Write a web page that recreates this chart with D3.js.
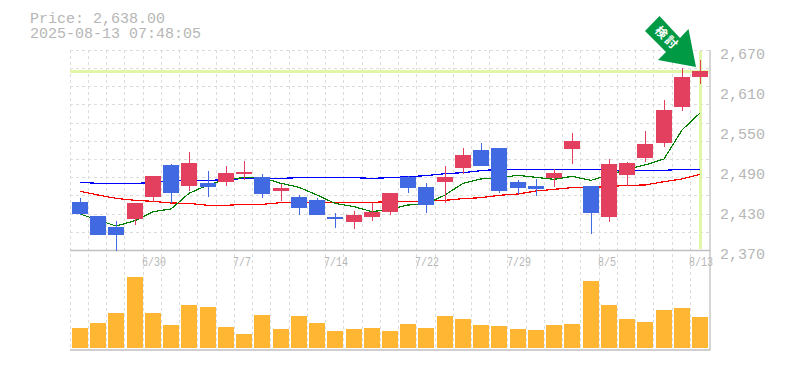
<!DOCTYPE html>
<html>
<head>
<meta charset="utf-8">
<script src="https://cdn.jsdelivr.net/npm/d3@7"></script>
<style>
    html, body { margin: 0; padding: 0; background: #ffffff; }
    svg { display: block; }
</style>
</head>
<body>
<div id="chart"></div>
<script>
const dates = ["6/24", "6/25", "6/26", "6/27", "6/30", "7/1", "7/2", "7/3", "7/4", "7/7", "7/8", "7/9", "7/10", "7/11",
    "7/14", "7/15", "7/16", "7/17", "7/18", "7/22", "7/23", "7/24", "7/25", "7/28", "7/29", "7/30", "7/31", "8/1",
    "8/4", "8/5", "8/6", "8/7", "8/8", "8/12", "8/13"];
const dateTicks = ["6/30", "7/7", "7/14", "7/22", "7/29", "8/5", "8/13"];
const priceTicks = [2670, 2610, 2550, 2490, 2430, 2370];

const open = [2442, 2421, 2404.5, 2416.5, 2449.5, 2497.5, 2466, 2470.5, 2472, 2484, 2479.5, 2458.5, 2449.5, 2445,
    2419.5, 2412, 2419.5, 2427, 2479.5, 2464.5, 2472, 2493, 2520, 2523, 2472, 2466, 2478, 2521.5,
    2466, 2419.5, 2482.5, 2508, 2530.5, 2584.5, 2629.5];
const high = [2447.5, 2421, 2413.5, 2440.5, 2481, 2499, 2517, 2488.5, 2496, 2503.5, 2484, 2469, 2452.5, 2448,
    2425.5, 2428.5, 2441, 2455.5, 2481, 2470.5, 2496, 2523, 2530.5, 2523, 2475, 2476.5, 2491.5, 2545.5,
    2466, 2506.5, 2502, 2548.5, 2595, 2643, 2655];
const low = [2422, 2392.5, 2369, 2407.5, 2442.5, 2440.5, 2458.5, 2449.5, 2466, 2475, 2448, 2443.5, 2422.5, 2422.5,
    2403, 2401.5, 2413.5, 2422.5, 2455.5, 2425.5, 2440.5, 2484, 2496, 2455.5, 2454, 2451, 2464.5, 2499,
    2394, 2412, 2466, 2502, 2524.5, 2578.5, 2619];
const close = [2424, 2392.5, 2392.5, 2440.5, 2481, 2455.5, 2500.5, 2464.5, 2485.5, 2487, 2454, 2463, 2433, 2422.5,
    2416.5, 2422.5, 2427, 2455.5, 2463, 2437.5, 2479.5, 2512.5, 2496, 2458.5, 2463, 2461.5, 2485.5, 2533.5,
    2425.5, 2499, 2500.5, 2529, 2580, 2629.5, 2638];

const maShort = [2424, 2415, 2406, 2414, 2427.5, 2431.5, 2455, 2467.5, 2476, 2478.5, 2478.5, 2470, 2464, 2452.5,
    2440, 2435, 2427.5, 2431, 2437.5, 2439, 2452.5, 2470, 2476.5, 2478.5, 2482, 2479, 2476, 2480.5,
    2474.5, 2482.5, 2491, 2497.5, 2506.5, 2550, 2575.5];
const maMid = [2458, 2452.5, 2447.5, 2444.5, 2443, 2440.5, 2440, 2437, 2437, 2438.5, 2438.5, 2441, 2441.5, 2441.5,
    2441.5, 2441.5, 2441.5, 2442.5, 2443, 2443.5, 2444.5, 2447, 2448.5, 2452, 2454, 2458.5, 2461, 2463.5,
    2464, 2465, 2467, 2467.5, 2472.5, 2476.5, 2483.5];
const maLong = [2471.5, 2470, 2470, 2470, 2471, 2473.5, 2474, 2474, 2476, 2477, 2477, 2477.5, 2478.5, 2478.5,
    2478.5, 2478.5, 2477.5, 2478.5, 2480, 2481.5, 2484.5, 2486, 2489, 2491, 2491, 2491, 2491, 2491,
    2491, 2489.5, 2489.5, 2489.5, 2489.5, 2491, 2491];

const volume = [20, 25, 35, 71, 35, 23, 43, 41, 21, 14, 33, 19, 32, 25, 17, 19, 20, 17,
    24, 20, 32, 29, 23, 22, 19, 18, 23, 24, 67, 43, 29, 26, 38, 40, 31];

const currentPrice = 2638;
const currentDate = "8/13";
const gridColumns = d3.range(dates.length);
const gridRows = d3.range(11);

const width = 785, height = 370;
const left = 70.77, right = 709.17;
const upColor = "#e34060", downColor = "#4169e1";
const textColor = "#b6b6b6", gridColor = "#dcdcdc", markColor = "#e2f6a8";
const monoFont = "'Liberation Mono', monospace";

const svg = d3.select("#chart")
    .append("svg")
    .attr("width", width)
    .attr("height", height);

// Scales
const x = d3.scaleBand()
    .domain(dates)
    .range([left, right])
    .paddingInner(0.124)
    .paddingOuter(0.062);

const y = d3.scaleLinear().domain([2370, 2670]).range([250, 50]);
const yVol = d3.scaleLinear().domain([0, 100]).range([348, 248]);
const xGrid = d3.scaleLinear().domain([0, 34]).range([70.2, 690.4]);
const yGrid = d3.scaleLinear().domain([0, 11]).range([50.4, 250.4]);

const barLeft = d => Math.round(x(d));
const center = d => barLeft(d) + 8;

// Grid
svg.append("g").selectAll("line")
    .data(gridColumns)
    .join("line")
    .attr("x1", d => Math.floor(xGrid(d)) + 0.5)
    .attr("x2", d => Math.floor(xGrid(d)) + 0.5)
    .attr("y1", 50)
    .attr("y2", 349)
    .attr("stroke", gridColor)
    .attr("stroke-dasharray", "3,3");

svg.append("g").selectAll("line")
    .data(gridRows)
    .join("line")
    .attr("x1", 70)
    .attr("x2", 709)
    .attr("y1", d => Math.floor(yGrid(d)) + 0.5)
    .attr("y2", d => Math.floor(yGrid(d)) + 0.5)
    .attr("stroke", gridColor)
    .attr("stroke-dasharray", "3,3");

// Current price and date markers
svg.append("line")
    .attr("x1", 70)
    .attr("x2", 709)
    .attr("y1", Math.round(y(currentPrice)) + 0.5)
    .attr("y2", Math.round(y(currentPrice)) + 0.5)
    .attr("stroke", markColor)
    .attr("stroke-width", 3);

svg.append("line")
    .attr("x1", center(currentDate) + 0.5)
    .attr("x2", center(currentDate) + 0.5)
    .attr("y1", 51)
    .attr("y2", 249)
    .attr("stroke", markColor)
    .attr("stroke-width", 3);

// Frame
svg.append("path")
    .attr("d", "M70,250.5H710M70,350H710.5M710,50V350")
    .attr("fill", "none")
    .attr("stroke", "#c0c0c0")
    .attr("stroke-width", 1.3);

// Moving averages
const line = d3.line()
    .x((d, i) => center(dates[i]))
    .y(d => y(d));

[[maLong, "#0000ff"], [maMid, "#ff0000"], [maShort, "#008000"]].forEach(([values, color]) => {
    svg.append("path")
        .attr("d", line(values))
        .attr("fill", "none")
        .attr("stroke", color)
        .attr("stroke-width", 1.2)
        .attr("shape-rendering", "crispEdges");
});

// Candles
const candle = svg.append("g")
    .selectAll("g")
    .data(dates)
    .join("g")
    .attr("shape-rendering", "crispEdges")
    .attr("fill", (d, i) => close[i] >= open[i] ? upColor : downColor)
    .attr("stroke", (d, i) => close[i] >= open[i] ? upColor : downColor);

candle.append("line")
    .attr("x1", d => center(d) + 0.5)
    .attr("x2", d => center(d) + 0.5)
    .attr("y1", (d, i) => y(high[i]))
    .attr("y2", (d, i) => y(low[i]));

candle.append("rect")
    .attr("x", barLeft)
    .attr("width", 16)
    .attr("y", (d, i) => y(Math.max(open[i], close[i])))
    .attr("height", (d, i) => Math.abs(y(open[i]) - y(close[i])))
    .attr("stroke", "none");

// Volume
svg.append("g")
    .selectAll("rect")
    .data(dates)
    .join("rect")
    .attr("x", barLeft)
    .attr("width", 16)
    .attr("y", (d, i) => yVol(volume[i]))
    .attr("height", (d, i) => yVol(0) - yVol(volume[i]))
    .attr("fill", "#ffb733")
    .attr("shape-rendering", "crispEdges");

// Axis labels
svg.append("g")
    .attr("transform", "translate(711,0)")
    .call(d3.axisRight(y).tickValues(priceTicks).tickFormat(d3.format(",")).tickSize(0).tickPadding(9))
    .call(g => g.select(".domain").remove())
    .selectAll("text")
    .attr("dy", null)
    .attr("y", 8)
    .attr("font-family", monoFont)
    .attr("font-size", 15)
    .attr("fill", textColor);

svg.append("g").selectAll("text")
    .data(dateTicks)
    .join("text")
    .attr("x", d => barLeft(d) - 3)
    .attr("y", 266)
    .attr("font-family", monoFont)
    .attr("font-size", 12)
    .attr("textLength", d => d.length * 6)
    .attr("lengthAdjust", "spacingAndGlyphs")
    .attr("fill", textColor)
    .text(d => d);

// Header
svg.append("text")
    .attr("x", 30)
    .attr("y", 23)
    .attr("font-family", monoFont)
    .attr("font-size", 15)
    .attr("fill", textColor)
    .text("Price: 2,638.00");

svg.append("text")
    .attr("x", 30)
    .attr("y", 38)
    .attr("font-family", monoFont)
    .attr("font-size", 15)
    .attr("fill", textColor)
    .text("2025-08-13 07:48:05");

// Arrow badge
const badge = svg.append("g");

badge.append("polygon")
    .attr("points", "659.5,16 680,38 688.5,29 696,67 658,60 666,52 645,31")
    .attr("fill", "#009944");

badge.append("text")
    .attr("transform", "translate(667,38) rotate(45)")
    .attr("text-anchor", "middle")
    .attr("dy", "0.36em")
    .attr("font-family", "'Noto Sans CJK JP'")
    .attr("font-weight", "bold")
    .attr("font-size", 12)
    .attr("letter-spacing", 2)
    .attr("fill", "#ffffff")
    .text("検討");
</script>
</body>
</html>
